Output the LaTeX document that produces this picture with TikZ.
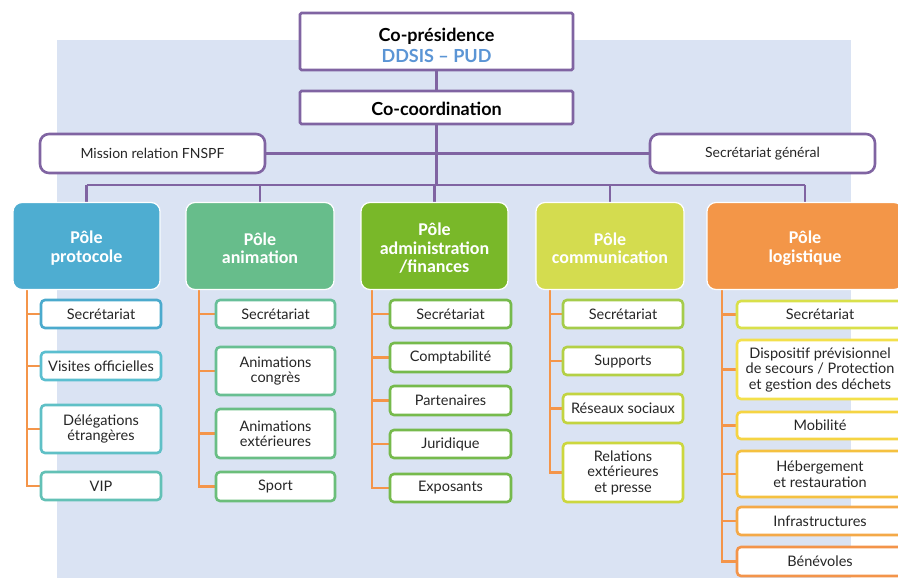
\documentclass[tikz,border=0pt]{standalone}
\usepackage{fontspec}
\setmainfont{Lato}
\newfontfamily\polefont{Carlito}
\pgfdeclarelayer{background}
\pgfsetlayers{background,main}
\definecolor{purp}{HTML}{8064A2}
\definecolor{bgblue}{HTML}{DAE3F3}
\definecolor{ddsis}{HTML}{5B95D5}
\definecolor{txt}{HTML}{262626}
\definecolor{orline}{HTML}{F4954A}
\definecolor{cproto}{HTML}{4EADD1}
\definecolor{canim}{HTML}{67BD8B}
\definecolor{cadmin}{HTML}{79B829}
\definecolor{ccomm}{HTML}{D4DC4F}
\definecolor{clogi}{HTML}{F39648}
\definecolor{pa}{HTML}{4BAACD}
\definecolor{pb}{HTML}{5BBFD0}
\definecolor{pc}{HTML}{5FC0C6}
\definecolor{pd}{HTML}{63C1B6}
\definecolor{aa}{HTML}{67BF99}
\definecolor{ab}{HTML}{68BF92}
\definecolor{ac}{HTML}{69BE85}
\definecolor{ad}{HTML}{6BBE7A}
\definecolor{dg}{HTML}{76BA4C}
\definecolor{ca}{HTML}{A5CC4B}
\definecolor{cb}{HTML}{B4D045}
\definecolor{cc}{HTML}{C3D440}
\definecolor{cd}{HTML}{CCD73E}
\definecolor{la}{HTML}{D9E04A}
\definecolor{lb}{HTML}{F3E04B}
\definecolor{lc}{HTML}{F5D443}
\definecolor{ld}{HTML}{F5C140}
\definecolor{le}{HTML}{F4A948}
\definecolor{lf}{HTML}{F3944A}
\begin{document}
\begin{tikzpicture}[x=1pt,y=-1pt,
  every node/.style={inner sep=0pt, outer sep=0pt},
  topbox/.style={draw=purp, line width=2.6pt, fill=white, rounded corners=1.5pt, align=center, font=\fontsize{18}{21}\selectfont\bfseries},
  sidebox/.style={draw=purp, line width=2.6pt, fill=white, rounded corners=9pt, text=txt, font=\fontsize{14}{16}\selectfont},
  polebox/.style={fill=#1, draw=white, line width=1.2pt, rounded corners=9pt, text=white, align=center, font=\polefont\bfseries\fontsize{18}{18.5}\selectfont},
  subbox/.style={draw=#1, line width=2.6pt, fill=white, rounded corners=4pt, align=center, text=txt, font=\fontsize{14.5}{15.5}\selectfont},
  purpline/.style={draw=purp, line width=2.6pt},
  orangeline/.style={draw=orline, line width=2.6pt},
]
\useasboundingbox (0,0) rectangle (898,578);
\clip (0,0) rectangle (898,578);

% top
\node[topbox, minimum width=273pt, minimum height=57pt] (cop) at (436.5,41.5) {\rule{0pt}{21pt}Co-présidence\\\textcolor{ddsis}{DDSIS – PUD}};
\node[topbox, minimum width=273pt, minimum height=33pt] (coord) at (436.5,107.5) {\rule{0pt}{17pt}Co-coordination};
\node[sidebox, minimum width=225pt, minimum height=39pt] (mission) at (152.5,153.5) {Mission relation FNSPF};
\node[sidebox, minimum width=225pt, minimum height=39pt] (secgen) at (762.5,153.5) {Secrétariat général};
\coordinate (bus) at (436.5,185);

% poles
\node[polebox=cproto, minimum width=147pt, minimum height=87pt] (proto) at (86.5,246) {\rule{0pt}{17pt}Pôle\\protocole};
\node[polebox=canim, minimum width=148pt, minimum height=87pt] (anim) at (260,246) {\rule{0pt}{17pt}Pôle\\animation};
\node[polebox=cadmin, minimum width=147pt, minimum height=87pt] (admin) at (434.5,246) {\rule{0pt}{17pt}Pôle\\administration\\/finances};
\node[polebox=ccomm, minimum width=148pt, minimum height=87pt] (comm) at (610,246) {\rule{0pt}{17pt}Pôle\\communication};
\node[polebox=clogi, minimum width=196pt, minimum height=87pt] (logi) at (805,246) {\rule{0pt}{17pt}Pôle\\logistique};

% protocole children
\node[subbox=pa, minimum width=120pt, minimum height=28pt] (p1) at (101,314) {Secrétariat};
\node[subbox=pb, minimum width=120pt, minimum height=28pt] (p2) at (101,366) {Visites officielles};
\node[subbox=pc, minimum width=120pt, minimum height=48pt] (p3) at (101,429) {Délégations\\étrangères};
\node[subbox=pd, minimum width=120pt, minimum height=28pt] (p4) at (101,486) {VIP};
% animation children
\node[subbox=aa, minimum width=119pt, minimum height=28pt] (a1) at (275.5,314) {Secrétariat};
\node[subbox=ab, minimum width=119pt, minimum height=48pt] (a2) at (275.5,371) {Animations\\congrès};
\node[subbox=ac, minimum width=119pt, minimum height=49pt] (a3) at (275.5,433.5) {Animations\\extérieures};
\node[subbox=ad, minimum width=119pt, minimum height=29pt] (a4) at (275.5,486.5) {Sport};
% admin children
\node[subbox=dg, minimum width=121pt, minimum height=28pt] (d1) at (450.5,314) {Secrétariat};
\node[subbox=dg, minimum width=121pt, minimum height=29pt] (d2) at (450.5,357.5) {Comptabilité};
\node[subbox=dg, minimum width=121pt, minimum height=29pt] (d3) at (450.5,400.5) {Partenaires};
\node[subbox=dg, minimum width=121pt, minimum height=28pt] (d4) at (450.5,444) {Juridique};
\node[subbox=dg, minimum width=121pt, minimum height=28pt] (d5) at (450.5,488) {Exposants};
% communication children
\node[subbox=ca, minimum width=120pt, minimum height=28pt] (c1) at (623,314) {Secrétariat};
\node[subbox=cb, minimum width=120pt, minimum height=28pt] (c2) at (623,361) {Supports};
\node[subbox=cc, minimum width=120pt, minimum height=29pt] (c3) at (623,408.5) {Réseaux sociaux};
\node[subbox=cd, minimum width=120pt, minimum height=59pt] (c4) at (623,472.5) {Relations\\extérieures\\et presse};
% logistique children
\node[subbox=la, minimum width=166pt, minimum height=27pt] (l1) at (820,314.5) {Secrétariat};
\node[subbox=lb, minimum width=166pt, minimum height=59pt] (l2) at (820,369.5) {Dispositif prévisionnel\\de secours / Protection\\et gestion des déchets};
\node[subbox=lc, minimum width=166pt, minimum height=27pt] (l3) at (820,425.5) {Mobilité};
\node[subbox=ld, minimum width=166pt, minimum height=46pt] (l4) at (820,474) {Hébergement\\et restauration};
\node[subbox=le, minimum width=166pt, minimum height=28pt] (l5) at (820,521) {Infrastructures};
\node[subbox=lf, minimum width=166pt, minimum height=29pt] (l6) at (820,561.5) {Bénévoles};

\coordinate (pv) at (27,0);
\coordinate (av) at (199,0);
\coordinate (dv) at (372,0);
\coordinate (cv) at (550,0);
\coordinate (lv) at (722,0);

\begin{pgfonlayer}{background}
\fill[bgblue] (57,40) rectangle (851,578);
\draw[purpline] (cop.south) -- (coord.north);
\draw[purpline] (coord.south) -- (bus);
\draw[purpline] (mission.east) -- (secgen.west);
\draw[purpline] (proto.north |- bus) -- (logi.north |- bus);
\foreach \p in {proto,anim,admin,comm,logi}{
  \draw[purpline] (\p.north) -- (\p.north |- bus);
}
\draw[orangeline] (pv |- proto.south) |- (p4.west);
\foreach \c in {p1,p2,p3}{ \draw[orangeline] (pv |- \c) -- (\c.west); }
\draw[orangeline] (av |- anim.south) |- (a4.west);
\foreach \c in {a1,a2,a3}{ \draw[orangeline] (av |- \c) -- (\c.west); }
\draw[orangeline] (dv |- admin.south) |- (d5.west);
\foreach \c in {d1,d2,d3,d4}{ \draw[orangeline] (dv |- \c) -- (\c.west); }
\draw[orangeline] (cv |- comm.south) |- (c4.west);
\foreach \c in {c1,c2,c3}{ \draw[orangeline] (cv |- \c) -- (\c.west); }
\draw[orangeline] (lv |- logi.south) |- (l6.west);
\foreach \c in {l1,l2,l3,l4,l5}{ \draw[orangeline] (lv |- \c) -- (\c.west); }
\end{pgfonlayer}
\end{tikzpicture}
\end{document}
